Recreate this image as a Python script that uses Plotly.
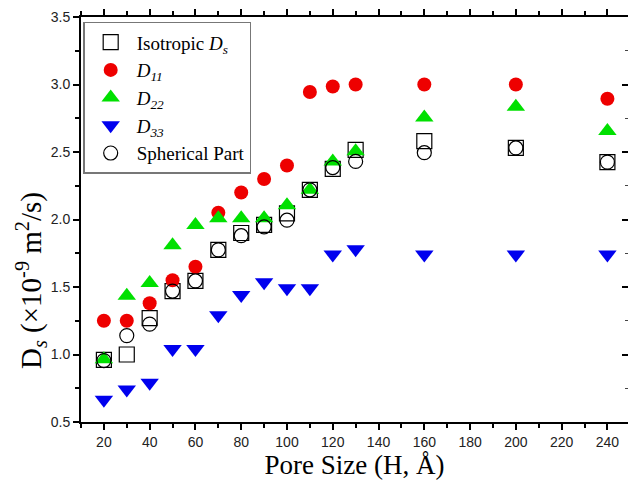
import plotly.graph_objects as go

pore = [20, 30, 40, 50, 60, 70, 80, 90, 100, 110, 120, 130, 160, 200, 240]
iso = [0.96, 1.00, 1.27, 1.47, 1.545, 1.775, 1.90, 1.96, 2.045, 2.22, 2.375, 2.515, 2.58, 2.53, 2.425]
d11 = [1.25, 1.25, 1.38, 1.55, 1.65, 2.05, 2.20, 2.30, 2.40, 2.945, 2.985, 3.00, 3.00, 3.00, 2.895]
d22 = [0.965, 1.435, 1.53, 1.81, 1.96, 2.01, 2.01, 2.01, 2.105, 2.22, 2.43, 2.505, 2.755, 2.835, 2.655]
d33 = [0.665, 0.74, 0.79, 1.04, 1.04, 1.29, 1.44, 1.535, 1.49, 1.49, 1.74, 1.78, 1.74, 1.74, 1.74]
sph = [0.955, 1.14, 1.225, 1.47, 1.545, 1.775, 1.88, 1.945, 1.995, 2.22, 2.385, 2.43, 2.495, 2.53, 2.425]

names = ["Isotropic <i>D</i><sub><i>s</i></sub>", "<i>D</i><sub><i>11</i></sub>",
         "<i>D</i><sub><i>22</i></sub>", "<i>D</i><sub><i>33</i></sub>", "Spherical Part"]
ytitle = "D<sub><i>s</i></sub> (×10<sup>-9</sup> m<sup>2</sup>/s)"
xtitle = "Pore Size (H, Å)"

fig = go.Figure()
fig.add_trace(go.Scatter(x=pore, y=iso, mode="markers", name=names[0],
                         marker=dict(symbol="square-open", size=15, color="black", line=dict(width=1.2))))
fig.add_trace(go.Scatter(x=pore, y=d11, mode="markers", name=names[1],
                         marker=dict(symbol="circle", size=14, color="#ee0000")))
fig.add_trace(go.Scatter(x=pore, y=d22, mode="markers", name=names[2],
                         marker=dict(symbol="triangle-up", size=16, color="#00e000")))
fig.add_trace(go.Scatter(x=pore, y=d33, mode="markers", name=names[3],
                         marker=dict(symbol="triangle-down", size=16, color="#0000ee")))
fig.add_trace(go.Scatter(x=pore, y=sph, mode="markers", name=names[4],
                         marker=dict(symbol="circle-open", size=14, color="black", line=dict(width=1.2))))
# invisible trace for right-side tick axis
fig.add_trace(go.Scatter(x=[pore[0]], y=[iso[0]], yaxis="y2", mode="markers",
                         marker=dict(opacity=0), showlegend=False, hoverinfo="skip"))

tickfont = dict(family="Liberation Sans", size=14, color="#222")
fig.update_layout(
    width=628, height=486,
    margin=dict(l=81, r=0, t=17, b=64),
    paper_bgcolor="white", plot_bgcolor="white",
    showlegend=True,
    legend=dict(x=0.004, y=0.988, xanchor="left", yanchor="top",
                bgcolor="white", bordercolor="#777", borderwidth=1.5,
                font=dict(family="Liberation Serif", size=19, color="black"),
                tracegroupgap=0, itemwidth=42),
    xaxis=dict(range=[10, 249], tickmode="array", tickvals=list(range(20, 241, 20)),
               showgrid=False, zeroline=False, showline=True, linecolor="black", linewidth=2,
               mirror="ticks", ticks="outside", ticklen=6, tickwidth=2, tickcolor="black",
               minor=dict(dtick=10, tick0=0, ticks="outside", ticklen=4, tickwidth=1.5, tickcolor="black"),
               tickfont=tickfont,
               title=dict(text=xtitle, font=dict(family="Liberation Serif", size=27, color="black"),
                          standoff=5)),
    yaxis=dict(range=[0.5, 3.5], tickmode="array", tickvals=[0.5, 1.0, 1.5, 2.0, 2.5, 3.0, 3.5],
               ticktext=["0.5", "1.0", "1.5", "2.0", "2.5", "3.0", "3.5"],
               showgrid=False, zeroline=False, showline=True, linecolor="black", linewidth=2,
               ticks="outside", ticklen=6, tickwidth=2, tickcolor="black",
               minor=dict(dtick=0.25, tick0=0.5, ticks="outside", ticklen=4, tickwidth=1.5, tickcolor="black"),
               tickfont=tickfont),
    yaxis2=dict(range=[0.5, 3.5], overlaying="y", side="right", showgrid=False, zeroline=False,
                showline=False, showticklabels=False, tickmode="array",
                tickvals=[0.5, 1.0, 1.5, 2.0, 2.5, 3.0, 3.5],
                ticks="inside", ticklen=6, tickwidth=2, tickcolor="black",
                minor=dict(dtick=0.25, tick0=0.5, ticks="inside", ticklen=3, tickwidth=1, tickcolor="#444")),
    annotations=[dict(text=ytitle, textangle=-90, xref="paper", yref="paper",
                      x=0, y=(422 - 281) / 405, xanchor="center", yanchor="middle",
                      xshift=-50, showarrow=False,
                      font=dict(family="Liberation Serif", size=29, color="black"))],
)

fig.write_html("out.html")
